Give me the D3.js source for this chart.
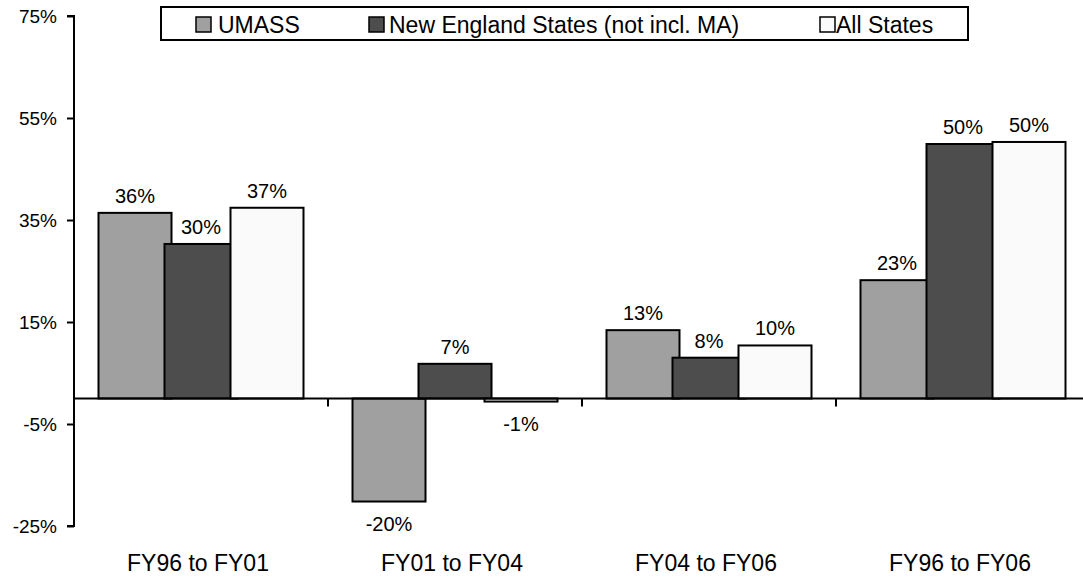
<!DOCTYPE html>
<html>
<head>
<meta charset="utf-8">
<script src="https://cdn.jsdelivr.net/npm/d3@7/dist/d3.min.js"></script>
<style>
  html, body { margin: 0; padding: 0; background: #fff; }
  svg { display: block; font-family: "Liberation Sans", Arial, sans-serif; }
</style>
</head>
<body>
<svg id="chart" width="1083" height="579"></svg>
<script>
const categories = ["FY96 to FY01", "FY01 to FY04", "FY04 to FY06", "FY96 to FY06"];
const seriesNames = ["UMASS", "New England States (not incl. MA)", "All States"];
const umass = [36.4, -20.2, 13.4, 23.2];
const newEngland = [30.3, 6.8, 8.0, 49.9];
const allStates = [37.4, -0.6, 10.4, 50.3];
const yTicks = [-25, -5, 15, 35, 55, 75];
const seriesColors = ["#a0a0a0", "#4d4d4d", "#fafafa"];

const seriesValues = [umass, newEngland, allStates];

const svg = d3.select("#chart");

const x0 = d3.scaleBand().domain(categories).range([74, 1090]).padding(0);
const y = d3.scaleLinear().domain([-25, 75]).range([526, 16]);

const bw = x0.bandwidth();
const barW = bw * 73 / 254;
const step = bw * 66 / 254;
const offset = (bw - barW - 2 * step) / 2;

// Bars
seriesValues.forEach((vals, si) => {
  const g = svg.append("g");
  g.selectAll("rect")
    .data(categories.map((c, i) => ({ c, v: vals[i] })))
    .join("rect")
    .attr("x", d => x0(d.c) + offset + si * step)
    .attr("y", d => y(Math.max(0, d.v)))
    .attr("width", barW)
    .attr("height", d => Math.abs(y(d.v) - y(0)))
    .attr("fill", seriesColors[si])
    .attr("stroke", "#000")
    .attr("stroke-width", 2);
});

// Data labels
seriesValues.forEach((vals, si) => {
  svg.append("g").selectAll("text")
    .data(categories.map((c, i) => ({ c, v: vals[i] })))
    .join("text")
    .attr("x", d => x0(d.c) + offset + si * step + barW / 2)
    .attr("y", d => d.v >= 0 ? y(d.v) - 10 : y(d.v) + 29)
    .attr("text-anchor", "middle")
    .attr("font-size", 20)
    .attr("fill", "#000")
    .text(d => Math.round(d.v) + "%");
});

// Y axis
const yAxis = d3.axisLeft(y).tickValues(yTicks).tickSize(7).tickPadding(10)
  .tickFormat(d => d + "%");
const yg = svg.append("g").attr("transform", "translate(74,0)").call(yAxis);
yg.select(".domain").attr("stroke", "#000").attr("stroke-width", 2).attr("d", `M-7,${y(75)}H0V${y(-25)}H-7`);
yg.selectAll(".tick line").attr("stroke", "#000").attr("stroke-width", 2);
yg.selectAll(".tick text").attr("font-size", 19).attr("fill", "#000")
  .attr("font-family", "Liberation Sans, Arial, sans-serif");

// X axis at zero
const boundaries = categories.slice(1).map(c => x0(c));
const xg = svg.append("g");
xg.append("line")
  .attr("x1", 74).attr("x2", 1090)
  .attr("y1", y(0)).attr("y2", y(0))
  .attr("stroke", "#000").attr("stroke-width", 2);
xg.selectAll("line.tk").data(boundaries).join("line").attr("class", "tk")
  .attr("x1", d => d).attr("x2", d => d)
  .attr("y1", y(0)).attr("y2", y(0) + 8)
  .attr("stroke", "#000").attr("stroke-width", 2);

// Category labels
svg.append("g").selectAll("text").data(categories).join("text")
  .attr("x", d => x0(d) + bw / 2 - 3)
  .attr("y", 571)
  .attr("text-anchor", "middle")
  .attr("font-size", 23)
  .attr("fill", "#000")
  .text(d => d);

// Legend
const lg = svg.append("g");
lg.append("rect").attr("x", 161).attr("y", 7).attr("width", 807).attr("height", 33)
  .attr("fill", "#fff").attr("stroke", "#000").attr("stroke-width", 2);
const legendX = [196, 369, 820];
const legendTextX = [218, 389, 836];
seriesNames.forEach((name, i) => {
  lg.append("rect").attr("x", legendX[i]).attr("y", 17).attr("width", 15).attr("height", 15)
    .attr("fill", seriesColors[i]).attr("stroke", "#000").attr("stroke-width", 1.5);
  lg.append("text").attr("x", legendTextX[i]).attr("y", 33)
    .attr("font-size", 23).attr("fill", "#000").text(name);
});
</script>
</body>
</html>
